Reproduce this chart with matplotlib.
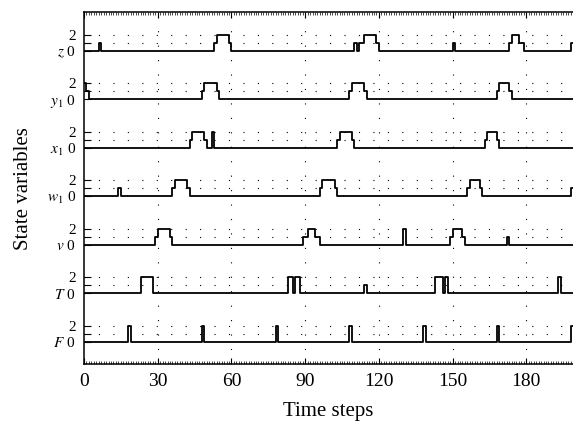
import numpy as np
import matplotlib
matplotlib.use("Agg")
import matplotlib.pyplot as plt
from matplotlib.ticker import MultipleLocator

plt.rcParams['font.family'] = ['Liberation Serif', 'DejaVu Serif']
plt.rcParams['mathtext.fontset'] = 'stix'

# time axis
t = np.arange(0, 200)

# pulses per state variable: (start step, levels from that step on)
z_pulses = [(6, [1]), (53, [1, 2, 2, 2, 2, 2, 1]), (110, [1, 0, 1, 1, 2, 2, 2, 2, 2, 1]),
            (150, [1]), (173, [1, 2, 2, 2, 1, 1]), (198, [1, 1])]
y1_pulses = [(0, [2, 1]), (48, [1, 2, 2, 2, 2, 2, 1]), (108, [1, 2, 2, 2, 2, 2, 1]),
             (168, [1, 2, 2, 2, 2, 1])]
x1_pulses = [(43, [1, 2, 2, 2, 2, 2, 1]), (52, [2]), (103, [1, 2, 2, 2, 2, 2, 1]),
             (163, [1, 2, 2, 2, 2, 1])]
w1_pulses = [(14, [1]), (36, [1, 2, 2, 2, 2, 2, 1]), (96, [1, 2, 2, 2, 2, 2, 1]),
             (156, [1, 2, 2, 2, 2, 1]), (198, [1, 1])]
v_pulses = [(29, [1, 2, 2, 2, 2, 2, 1]), (89, [1, 1, 2, 2, 2, 1, 1]), (130, [2]),
            (149, [1, 2, 2, 2, 2, 1]), (172, [1])]
T_pulses = [(23, [2, 2, 2, 2, 2]), (83, [2, 2, 0, 2, 2]), (114, [1]),
            (143, [2, 2, 2, 0, 2]), (193, [2])]
F_pulses = [(18, [2]), (48, [2]), (78, [2]), (108, [2]), (138, [2]), (168, [2]), (198, [2, 2])]

names = ['$z$', '$y_1$', '$x_1$', '$w_1$', '$v$', '$T$', '$F$']
pulses = [z_pulses, y1_pulses, x1_pulses, w1_pulses, v_pulses, T_pulses, F_pulses]
spacing = 6


def build(plist):
    s = np.zeros(len(t))
    for start, levels in plist:
        s[start:start + len(levels)] = levels
    return s


fig = plt.figure(figsize=(5.73, 4.23), dpi=100)
ax = fig.add_axes([0.1466, 0.1388, 0.8534, 0.8328])

yticks, ylabels = [], []
for i, (name, plist) in enumerate(zip(names, pulses)):
    off = spacing * (len(names) - 1 - i)
    ax.step(t, build(plist) + off, where='post', color='black', lw=1.3)
    for lv in (1, 2):
        ax.axhline(off + lv, color='black', ls=(0, (1, 12)), lw=0.8)
    yticks += [off, off + 1, off + 2]
    ylabels += [name + ' 0', '', '2']

for xv in range(30, 200, 30):
    ax.axvline(xv, color='black', ls=(0, (1, 12)), lw=0.8)

ax.set_xlim(0, 199)
ax.set_ylim(-2.8, 40.8)
ax.set_yticks(yticks)
ax.set_yticklabels(ylabels, fontsize=11)
ax.set_xticks(range(0, 181, 30))
ax.xaxis.set_minor_locator(MultipleLocator(1))
ax.tick_params(axis='x', which='both', direction='in', top=True, labelsize=14, pad=6)
ax.tick_params(axis='x', which='minor', length=2, width=0.5)
ax.tick_params(axis='x', which='major', length=4)
ax.tick_params(axis='y', direction='in', length=5, pad=6)
ax.spines['right'].set_visible(False)
for sp in ('left', 'top', 'bottom'):
    ax.spines[sp].set_linewidth(1.1)

ax.set_xlabel('Time steps', fontsize=15, labelpad=9)
ax.set_ylabel('State variables', fontsize=15, labelpad=10)

fig.savefig('out.png', dpi=100)
